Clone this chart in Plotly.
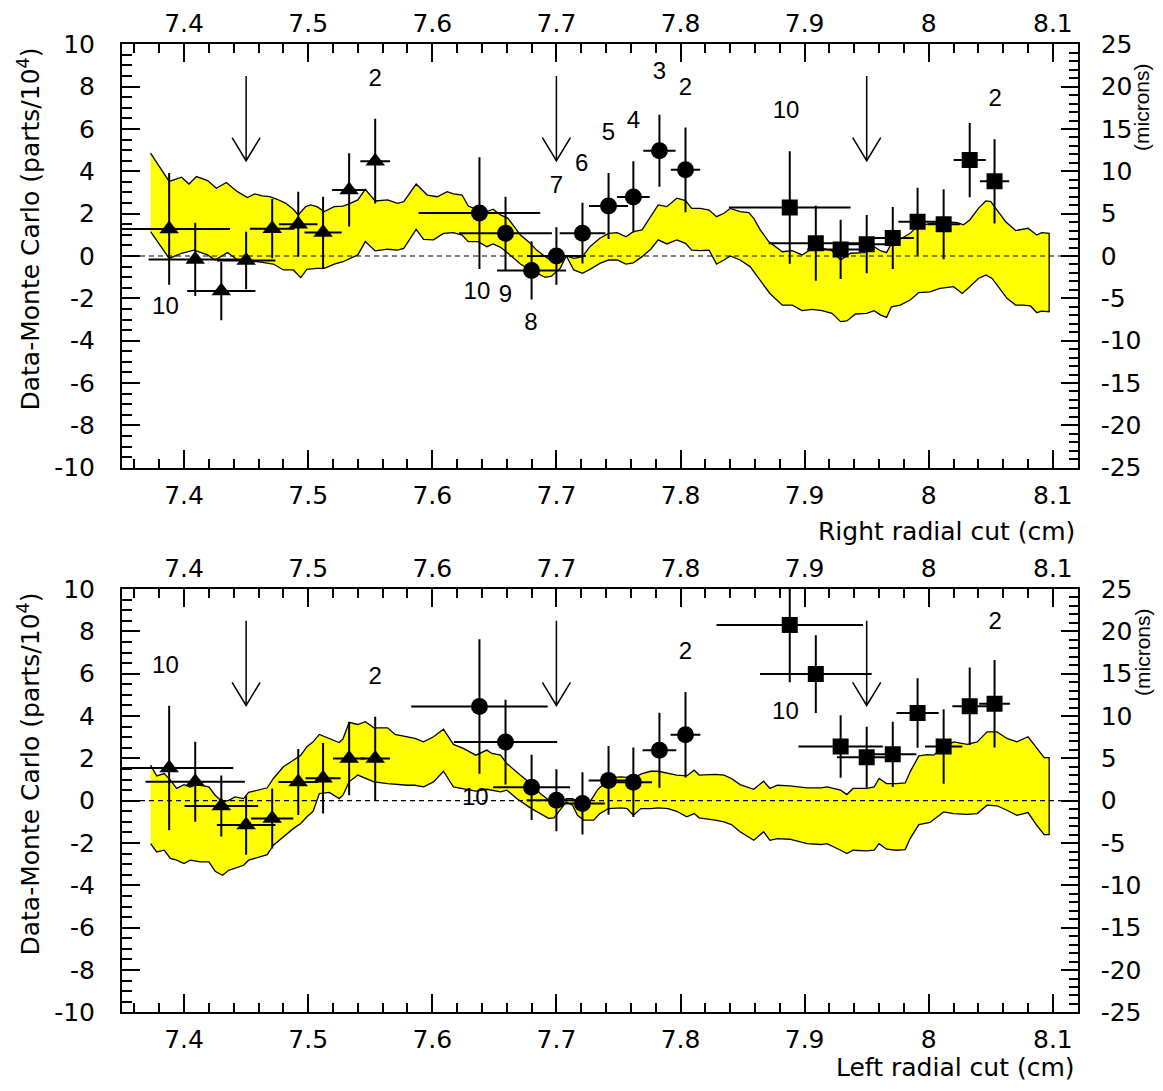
import plotly.graph_objects as go

# ---------------- data ----------------
X_RANGE = [7.35, 8.12]
Y_RANGE = [-10, 10]
MICRON_RANGE = [-25, 25]

x_tick_vals = [7.4, 7.5, 7.6, 7.7, 7.8, 7.9, 8.0, 8.1]
x_tick_text = ["7.4", "7.5", "7.6", "7.7", "7.8", "7.9", "8", "8.1"]
y_tick_vals = [-10, -8, -6, -4, -2, 0, 2, 4, 6, 8, 10]
y_tick_text = ["-10", "-8", "-6", "-4", "-2", "0", "2", "4", "6", "8", "10"]
micron_tick_vals = [-25, -20, -15, -10, -5, 0, 5, 10, 15, 20, 25]
micron_tick_text = ["-25", "-20", "-15", "-10", "-5", "0", "5", "10", "15", "20", "25"]

CUT_ARROWS = [7.45, 7.70, 7.95]
ARROW_TOP = 8.5
ARROW_TIP = 4.5

tri_x = [7.388, 7.409, 7.430, 7.450, 7.471, 7.492, 7.512, 7.533, 7.554]
cir_x = [7.638, 7.659, 7.680, 7.700, 7.721, 7.742, 7.762, 7.783, 7.804]
sqr_x = [7.888, 7.909, 7.929, 7.950, 7.971, 7.991, 8.012, 8.033, 8.053]

# ---- Right radial cut (top panel) ----
r_tri_y = [1.28, -0.16, -1.65, -0.21, 1.29, 1.50, 1.11, 3.12, 4.48]
r_tri_ey = [2.64, 1.73, 1.38, 1.36, 1.40, 1.54, 1.69, 1.73, 2.00]
r_tri_ex = [0.049, 0.0376, 0.0275, 0.0236, 0.018, 0.0155, 0.0150, 0.0137, 0.012]
r_cir_y = [2.03, 1.07, -0.68, 0.00, 1.08, 2.36, 2.79, 4.97, 4.07]
r_cir_ey = [2.64, 1.73, 1.38, 1.36, 1.44, 1.56, 1.68, 1.70, 2.00]
r_cir_ex = [0.049, 0.0374, 0.0278, 0.0236, 0.0184, 0.0157, 0.0132, 0.013, 0.0118]
r_sqr_y = [2.29, 0.60, 0.31, 0.56, 0.85, 1.62, 1.50, 4.53, 3.53]
r_sqr_ey = [2.66, 1.77, 1.40, 1.38, 1.46, 1.60, 1.65, 1.75, 1.99]
r_sqr_ex = [0.049, 0.038, 0.027, 0.0236, 0.017, 0.0155, 0.013, 0.013, 0.0118]

r_band_up_x = [7.373, 7.388, 7.398, 7.404, 7.410, 7.419, 7.426, 7.434, 7.443, 7.451,
               7.457, 7.463, 7.469, 7.475, 7.482, 7.488, 7.492, 7.498, 7.502, 7.507,
               7.513, 7.521, 7.528, 7.533, 7.540, 7.546, 7.554, 7.564, 7.572, 7.577,
               7.587, 7.596, 7.604, 7.612, 7.617, 7.624, 7.629, 7.637, 7.644, 7.649,
               7.655, 7.661, 7.666, 7.671, 7.679, 7.684, 7.691, 7.696, 7.703, 7.708,
               7.714, 7.721, 7.727, 7.735, 7.742, 7.749, 7.756, 7.762, 7.769, 7.776,
               7.782, 7.789, 7.797, 7.804, 7.809, 7.816, 7.823, 7.829, 7.835, 7.840,
               7.848, 7.855, 7.859, 7.864, 7.871, 7.882, 7.890, 7.898, 7.906, 7.914,
               7.922, 7.929, 7.937, 7.948, 7.956, 7.961, 7.966, 7.970, 7.977, 7.985,
               7.989, 7.995, 8.004, 8.013, 8.023, 8.028, 8.033, 8.040, 8.046, 8.050,
               8.055, 8.062, 8.070, 8.076, 8.080, 8.087, 8.091, 8.097]
r_band_up = [4.86, 3.52, 3.72, 3.40, 3.75, 3.56, 3.20, 3.47, 3.04, 2.76,
             2.93, 2.84, 2.80, 2.68, 2.49, 2.21, 1.94, 2.33, 2.41, 2.33,
             2.10, 2.33, 2.36, 2.46, 2.65, 3.15, 2.60, 2.65, 2.49, 2.57,
             3.40, 2.88, 2.80, 3.04, 2.93, 2.88, 2.36, 2.17, 2.10, 2.21,
             1.94, 1.78, 1.39, 0.99, 0.60, 0.28, -0.03, -0.22, -0.11, 0.00,
             -0.11, -0.03, 0.44, 0.84, 1.07, 1.10, 0.91, 1.15, 1.23, 1.86,
             2.41, 2.33, 2.73, 2.62, 2.25, 2.25, 2.17, 1.86, 2.02, 2.25,
             2.10, 2.05, 1.78, 1.26, 0.68, 0.20, 0.25, 0.05, 0.36, 0.36,
             0.25, -0.19, 0.13, 0.16, 0.44, 0.25, 0.16, 0.60, 0.79, 1.07,
             1.31, 1.47, 1.54, 1.62, 1.57, 1.47, 1.70, 2.25, 2.60, 2.57,
             2.17, 1.62, 1.20, 1.26, 1.31, 0.99, 1.10, 1.07]
r_band_lo_x = [7.373, 7.388, 7.398, 7.408, 7.419, 7.425, 7.435, 7.444, 7.459, 7.472,
               7.480, 7.488, 7.494, 7.499, 7.507, 7.513, 7.521, 7.528, 7.540, 7.546,
               7.554, 7.564, 7.572, 7.577, 7.587, 7.593, 7.601, 7.609, 7.617, 7.624,
               7.629, 7.637, 7.644, 7.649, 7.655, 7.661, 7.666, 7.671, 7.679, 7.684,
               7.691, 7.696, 7.703, 7.708, 7.714, 7.721, 7.727, 7.735, 7.742, 7.749,
               7.756, 7.762, 7.769, 7.776, 7.782, 7.789, 7.797, 7.804, 7.809, 7.816,
               7.823, 7.829, 7.835, 7.840, 7.848, 7.856, 7.864, 7.872, 7.882, 7.890,
               7.898, 7.906, 7.914, 7.922, 7.929, 7.934, 7.941, 7.950, 7.956, 7.961,
               7.966, 7.970, 7.977, 7.985, 7.992, 8.001, 8.009, 8.020, 8.027, 8.033,
               8.040, 8.046, 8.051, 8.056, 8.063, 8.070, 8.076, 8.082, 8.087, 8.091,
               8.097]
r_band_lo = [1.15, -0.11, 0.13, 0.28, 0.05, -0.19, 0.16, -0.22, -0.27, -0.38,
             -0.66, -0.66, -1.02, -0.63, -0.58, -0.58, -0.38, -0.27, 0.05, 0.68,
             0.24, 0.32, 0.28, 0.36, 1.26, 0.79, 0.76, 1.07, 1.10, 0.99,
             0.68, 0.68, 0.44, 0.57, 0.41, 0.13, -0.11, -0.38, -0.66, -0.82,
             -1.01, -0.95, -0.58, 0.00, -0.66, -0.82, -0.63, -0.35, -0.19, -0.19,
             -0.38, -0.32, -0.03, 0.32, 0.76, 0.57, 0.76, 0.60, 0.28, 0.25,
             0.28, -0.38, -0.19, 0.00, -0.19, -0.50, -1.13, -1.77, -2.32, -2.32,
             -2.58, -2.52, -2.58, -2.71, -3.10, -3.07, -2.74, -2.71, -2.58, -2.78,
             -2.90, -2.40, -2.32, -2.08, -1.73, -1.69, -1.53, -1.45, -1.77, -1.45,
             -1.06, -0.90, -1.06, -1.45, -2.00, -2.32, -2.32, -2.36, -2.68, -2.60,
             -2.63]

r_lab_x = [7.385, 7.554, 7.636, 7.659, 7.6795, 7.700, 7.7203, 7.742, 7.762, 7.783, 7.804, 7.885, 8.0535]
r_lab_y = [-2.46, 8.32, -1.76, -1.89, -3.22, 3.28, 4.30, 5.77, 6.35, 8.64, 7.88, 6.82, 7.38]
r_lab_t = ["10", "2", "10", "9", "8", "7", "6", "5", "4", "3", "2", "10", "2"]

# ---- Left radial cut (bottom panel) ----
l_tri_y = [1.55, 0.90, -0.25, -1.15, -0.84, 0.88, 1.06, 1.99, 1.99]
l_tri_ey = [2.94, 1.89, 1.44, 1.40, 1.42, 1.56, 1.66, 1.73, 1.97]
l_tri_ex = [0.0516, 0.040, 0.0296, 0.0236, 0.017, 0.016, 0.0141, 0.013, 0.012]
l_cir_y = [4.45, 2.77, 0.63, 0.02, -0.13, 0.96, 0.87, 2.38, 3.12]
l_cir_ey = [3.18, 2.00, 1.54, 1.46, 1.47, 1.62, 1.64, 1.77, 2.02]
l_cir_ex = [0.055, 0.0416, 0.031, 0.024, 0.018, 0.016, 0.015, 0.0136, 0.012]
l_sqr_y = [8.30, 5.98, 2.56, 2.05, 2.19, 4.14, 2.56, 4.46, 4.58]
l_sqr_ey = [2.71, 1.84, 1.48, 1.44, 1.54, 1.64, 1.76, 1.83, 2.07]
l_sqr_ex = [0.059, 0.045, 0.034, 0.024, 0.019, 0.017, 0.015, 0.014, 0.0124]

l_band_up_x = [7.373, 7.378, 7.384, 7.389, 7.394, 7.400, 7.405, 7.410, 7.420, 7.425,
               7.431, 7.436, 7.441, 7.448, 7.452, 7.459, 7.467, 7.472, 7.480, 7.488,
               7.494, 7.499, 7.504, 7.509, 7.517, 7.525, 7.528, 7.533, 7.540, 7.546,
               7.553, 7.564, 7.570, 7.580, 7.586, 7.593, 7.601, 7.609, 7.617, 7.625,
               7.635, 7.644, 7.648, 7.655, 7.660, 7.668, 7.679, 7.687, 7.694, 7.702,
               7.708, 7.713, 7.722, 7.727, 7.733, 7.737, 7.742, 7.752, 7.762, 7.769,
               7.776, 7.782, 7.790, 7.797, 7.805, 7.811, 7.815, 7.821, 7.828, 7.835,
               7.841, 7.848, 7.859, 7.867, 7.872, 7.878, 7.888, 7.902, 7.913, 7.918,
               7.929, 7.934, 7.939, 7.950, 7.956, 7.960, 7.966, 7.974, 7.981, 7.985,
               7.992, 7.999, 8.004, 8.011, 8.020, 8.031, 8.039, 8.047, 8.055, 8.063,
               8.071, 8.080, 8.087, 8.093, 8.097]
l_band_up = [1.68, 1.17, 1.28, 0.97, 0.58, 0.76, 0.65, 0.76, 0.65, 0.26,
             -0.06, 0.02, 0.18, 0.10, 0.39, 0.50, 0.61, 1.05, 1.60, 1.91,
             2.15, 2.55, 2.78, 3.13, 2.94, 2.75, 2.91, 3.70, 3.60, 3.73,
             3.44, 3.44, 3.13, 3.02, 2.94, 2.78, 3.02, 3.38, 2.66, 2.47,
             2.15, 2.39, 2.23, 2.15, 1.76, 1.36, 0.81, 0.34, 0.02, -0.21,
             0.10, 0.10, -0.21, -0.06, 0.50, 0.73, 1.08, 1.13, 1.08, 1.28,
             1.39, 1.39, 1.28, 1.21, 1.17, 1.44, 1.21, 1.24, 1.24, 1.21,
             1.05, 0.76, 0.54, 0.92, 0.58, 0.73, 0.70, 0.61, 0.61, 0.65,
             0.50, 0.29, 0.58, 0.58, 0.65, 1.05, 0.81, 0.81, 0.84, 1.36,
             2.12, 2.18, 2.15, 2.50, 2.78, 2.66, 2.78, 3.25, 3.25, 2.94,
             2.78, 3.02, 2.47, 2.03, 2.03]
l_band_lo_x = [7.373, 7.378, 7.384, 7.389, 7.394, 7.400, 7.405, 7.413, 7.420, 7.425,
               7.431, 7.436, 7.441, 7.448, 7.452, 7.459, 7.467, 7.472, 7.480, 7.488,
               7.494, 7.499, 7.504, 7.509, 7.517, 7.525, 7.528, 7.533, 7.540, 7.546,
               7.553, 7.564, 7.570, 7.580, 7.586, 7.593, 7.601, 7.609, 7.617, 7.625,
               7.635, 7.644, 7.655, 7.660, 7.668, 7.679, 7.687, 7.694, 7.698, 7.702,
               7.708, 7.713, 7.717, 7.722, 7.730, 7.735, 7.742, 7.752, 7.757, 7.762,
               7.768, 7.776, 7.782, 7.790, 7.797, 7.805, 7.811, 7.815, 7.821, 7.828,
               7.835, 7.841, 7.848, 7.859, 7.867, 7.872, 7.878, 7.888, 7.902, 7.913,
               7.918, 7.929, 7.934, 7.939, 7.950, 7.956, 7.960, 7.966, 7.974, 7.981,
               7.985, 7.992, 8.001, 8.012, 8.020, 8.031, 8.039, 8.047, 8.055, 8.063,
               8.071, 8.080, 8.087, 8.093, 8.097]
l_band_lo = [-2.03, -2.42, -2.34, -2.73, -2.81, -2.97, -2.81, -2.89, -2.89, -3.33,
             -3.52, -3.29, -3.21, -3.05, -2.81, -2.70, -2.55, -2.10, -1.71, -1.32,
             -1.08, -0.76, -0.50, 0.34, 0.39, 0.10, 0.26, 0.89, 1.21, 1.08,
             0.89, 0.81, 0.76, 0.73, 0.73, 0.65, 0.89, 1.39, 0.65, 0.58,
             0.45, 0.54, 0.42, 0.50, 0.10, -0.34, -0.61, -0.84, -0.81, -0.53,
             -0.06, -0.21, -0.69, -0.92, -0.92, -0.61, -0.37, -0.34, -0.37, -0.69,
             -0.37, -0.37, -0.34, -0.37, -0.50, -0.76, -0.61, -0.81, -0.87, -0.92,
             -1.00, -1.13, -1.47, -1.87, -1.47, -1.87, -1.79, -1.82, -2.03, -2.07,
             -2.03, -2.34, -2.50, -2.34, -2.37, -2.34, -2.03, -2.29, -2.34, -2.31,
             -1.79, -1.13, -1.03, -0.53, -0.61, -0.65, -0.61, -0.21, -0.24, -0.45,
             -0.69, -0.56, -1.16, -1.60, -1.60]

l_lab_x = [7.385, 7.554, 7.6347, 7.804, 7.8845, 8.0535]
l_lab_y = [6.33, 5.78, 0.10, 6.96, 4.12, 8.38]
l_lab_t = ["10", "2", "10", "2", "10", "2"]

# ---------------- styling ----------------
AX_FONT = dict(family="DejaVu Sans", size=25, color="black")
NUM_FONT = dict(family="Liberation Sans", size=24, color="black")
OFF = 8  # default page margin of the HTML body
W, H = 1163 - 2 * OFF, 1091 - 2 * OFF  # figure fits the window without scrollbars
XDOM = [(122 - OFF) / W, (1077.7 - OFF) / W]
YDOM_TOP = [1 - (467.7 - OFF) / H, 1 - (44.3 - OFF) / H]
YDOM_BOT = [1 - (1012.4 - OFF) / H, 1 - (589 - OFF) / H]
HEAD_HW = 0.0113
HEAD_HH = 1.09

fig = go.Figure()


def add_panel(xa, ya, band, groups, labels):
    ux, uy, lx, ly = band
    fig.add_trace(go.Scatter(
        x=ux + lx[::-1], y=uy + ly[::-1], mode="lines", fill="toself",
        fillcolor="#ffff00", line=dict(color="black", width=1.3),
        xaxis=xa, yaxis=ya, showlegend=False, hoverinfo="skip"))
    fig.add_trace(go.Scatter(
        x=X_RANGE, y=[0, 0], mode="lines",
        line=dict(color="black", width=1.2, dash="5px,4px"),
        xaxis=xa, yaxis=ya, showlegend=False, hoverinfo="skip"))
    for xs, ys, ey, ex, sym, size in groups:
        fig.add_trace(go.Scatter(
            x=xs, y=ys, mode="markers",
            marker=dict(symbol=sym, size=size, color="black", line=dict(width=0)),
            error_y=dict(type="data", array=ey, visible=True, width=0, thickness=2, color="black"),
            error_x=dict(type="data", array=ex, visible=True, width=0, thickness=2, color="black"),
            xaxis=xa, yaxis=ya, showlegend=False))
    for c in CUT_ARROWS:
        fig.add_trace(go.Scatter(
            x=[c, c, None, c - HEAD_HW, c, c + HEAD_HW],
            y=[ARROW_TOP, ARROW_TIP, None, ARROW_TIP + HEAD_HH, ARROW_TIP, ARROW_TIP + HEAD_HH],
            mode="lines", line=dict(color="black", width=1.5),
            xaxis=xa, yaxis=ya, showlegend=False, hoverinfo="skip"))
    lxs, lys, lts = labels
    fig.add_trace(go.Scatter(
        x=lxs, y=lys, text=lts, mode="text", textfont=NUM_FONT,
        textposition="middle center", xaxis=xa, yaxis=ya, showlegend=False,
        hoverinfo="skip", cliponaxis=False))


add_panel("x", "y",
          (r_band_up_x, r_band_up, r_band_lo_x, r_band_lo),
          [(tri_x, r_tri_y, r_tri_ey, r_tri_ex, "triangle-up", 17),
           (cir_x, r_cir_y, r_cir_ey, r_cir_ex, "circle", 17),
           (sqr_x, r_sqr_y, r_sqr_ey, r_sqr_ex, "square", 16)],
          (r_lab_x, r_lab_y, r_lab_t))
add_panel("x2", "y2",
          (l_band_up_x, l_band_up, l_band_lo_x, l_band_lo),
          [(tri_x, l_tri_y, l_tri_ey, l_tri_ex, "triangle-up", 17),
           (cir_x, l_cir_y, l_cir_ey, l_cir_ex, "circle", 17),
           (sqr_x, l_sqr_y, l_sqr_ey, l_sqr_ex, "square", 16)],
          (l_lab_x, l_lab_y, l_lab_t))

# invisible traces so the overlay axes are drawn
for xa, ya in [("x3", "y"), ("x", "y3"), ("x4", "y2"), ("x2", "y4")]:
    fig.add_trace(go.Scatter(x=[None], y=[None], xaxis=xa, yaxis=ya, mode="markers",
                             showlegend=False, hoverinfo="skip"))

COMMON = dict(ticks="inside", tickwidth=1.5, tickcolor="black",
              showline=True, linewidth=2, linecolor="black",
              showgrid=False, zeroline=False, tickfont=AX_FONT,
              automargin=False, tickmode="array")


def xaxis_spec(anchor, side, overlay=None):
    d = dict(domain=XDOM, anchor=anchor, side=side, range=X_RANGE,
             tickvals=x_tick_vals, ticktext=x_tick_text, ticklen=18,
             minor=dict(ticks="inside", dtick=0.02, tick0=7.4, ticklen=9,
                        tickwidth=1.5, tickcolor="black", showgrid=False),
             ticklabelstandoff=(0 if side == "top" else 4), **COMMON)
    if overlay:
        d["overlaying"] = overlay
    return d


def yaxis_left(anchor, dom):
    return dict(domain=dom, anchor=anchor, range=Y_RANGE,
                tickvals=y_tick_vals, ticktext=y_tick_text, ticklen=18,
                minor=dict(ticks="inside", dtick=0.5, ticklen=10,
                           tickwidth=1.5, tickcolor="black", showgrid=False),
                ticklabelstandoff=20, **COMMON)


def yaxis_right(anchor, overlay):
    return dict(anchor=anchor, overlaying=overlay, side="right",
                range=MICRON_RANGE, tickvals=micron_tick_vals,
                ticktext=micron_tick_text, ticklen=17,
                minor=dict(ticks="inside", dtick=1, ticklen=9,
                           tickwidth=1.5, tickcolor="black", showgrid=False),
                ticklabelstandoff=16, **COMMON)


def px(xp, yp):
    return (xp - OFF) / W, 1 - (yp - OFF) / H


annotations = []
for yc in [229.5, 774.5]:
    ax_, ay_ = px(29, yc)
    annotations.append(dict(text="Data-Monte Carlo (parts/10<sup>4</sup>)",
                            x=ax_, y=ay_, xref="paper", yref="paper",
                            textangle=-90, showarrow=False, xanchor="center",
                            yanchor="middle", font=AX_FONT))
for yc in [107, 652]:
    ax_, ay_ = px(1142, yc)
    annotations.append(dict(text="(microns)", x=ax_, y=ay_, xref="paper",
                            yref="paper", textangle=-90, showarrow=False,
                            xanchor="center", yanchor="middle",
                            font=dict(family="Liberation Sans", size=21, color="black")))
for txt, yc in [("Right radial cut (cm)", 531), ("Left radial cut (cm)", 1067)]:
    ax_, ay_ = px(1077, yc)
    annotations.append(dict(text=txt, x=ax_, y=ay_, xref="paper", yref="paper",
                            showarrow=False, xanchor="right", yanchor="middle",
                            font=AX_FONT))

fig.update_layout(
    width=W, height=H, margin=dict(l=0, r=0, t=0, b=0, autoexpand=False),
    paper_bgcolor="white", plot_bgcolor="white",
    font=dict(family="DejaVu Sans", color="black"),
    showlegend=False,
    xaxis=xaxis_spec("y", "bottom"),
    xaxis3=xaxis_spec("y", "top", overlay="x"),
    yaxis=yaxis_left("x", YDOM_TOP),
    yaxis3=yaxis_right("x", "y"),
    xaxis2=xaxis_spec("y2", "bottom"),
    xaxis4=xaxis_spec("y2", "top", overlay="x2"),
    yaxis2=yaxis_left("x2", YDOM_BOT),
    yaxis4=yaxis_right("x2", "y2"),
    annotations=annotations,
)

fig.write_html("out.html")
